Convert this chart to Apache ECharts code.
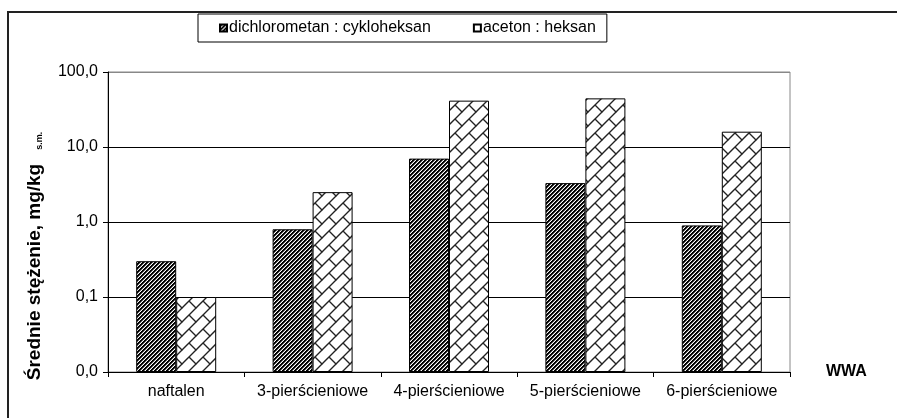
<!DOCTYPE html>
<html>
<head>
<meta charset="utf-8">
<script src="https://cdn.jsdelivr.net/npm/echarts@6/dist/echarts.min.js"></script>
<style>
  html, body { margin: 0; padding: 0; background: #fff; }
  #chart { width: 897px; height: 418px; }
</style>
</head>
<body>
<div id="chart"></div>
<script>
// dane
var categories = ['naftalen', '3-pierścieniowe', '4-pierścieniowe', '5-pierścieniowe', '6-pierścieniowe'];
var dichlorometan = [0.3, 0.8, 7.0, 3.3, 0.9];   // dichlorometan : cykloheksan
var aceton = [0.1, 2.5, 41.5, 44.5, 16.0];       // aceton : heksan
var yTicks = [0.01, 0.1, 1, 10, 100];

var FONT = '"Liberation Sans", Arial, sans-serif';

// ukośne paski "/"
function stripePattern() {
  var c = document.createElement('canvas');
  c.width = 4; c.height = 4;
  var ctx = c.getContext('2d');
  var img = ctx.createImageData(4, 4);
  for (var y = 0; y < 4; y++) {
    for (var x = 0; x < 4; x++) {
      var k = (x + y) % 4;
      var v = k < 2 ? 0 : (k === 2 ? 110 : 255);
      var i = (y * 4 + x) * 4;
      img.data[i] = img.data[i + 1] = img.data[i + 2] = v;
      img.data[i + 3] = 255;
    }
  }
  ctx.putImageData(img, 0, 0);
  return c;
}

// ukośna cegiełka
function brickPattern() {
  var P = 14;
  var c = document.createElement('canvas');
  c.width = P; c.height = P;
  var ctx = c.getContext('2d');
  ctx.fillStyle = '#fff';
  ctx.fillRect(0, 0, P, P);
  ctx.strokeStyle = '#222';
  ctx.lineWidth = 1.4;
  ctx.beginPath();
  ctx.moveTo(-2, P + 2); ctx.lineTo(P + 2, -2);
  ctx.moveTo(-2, 2); ctx.lineTo(2, -2);
  ctx.moveTo(P - 2, P + 2); ctx.lineTo(P + 2, P - 2);
  ctx.moveTo(P / 2, P / 2); ctx.lineTo(P + 1, P + 1);
  ctx.moveTo(-1, -1); ctx.lineTo(0.6, 0.6);
  ctx.stroke();
  return c;
}

var chart = echarts.init(document.getElementById('chart'), null, { renderer: 'canvas' });

var option = {
  animation: false,
  textStyle: { fontFamily: FONT, color: '#000' },
  graphic: [
    {
      type: 'rect',
      shape: { x: 8, y: 12, width: 1000, height: 500 },
      style: { fill: null, stroke: '#222', lineWidth: 2 },
      silent: true
    }
  ],
  legend: {
    left: 198,
    top: 14,
    padding: [6, 11, 6, 21],
    itemGap: 42,
    itemWidth: 7,
    itemHeight: 7,
    icon: 'rect',
    borderColor: '#000',
    borderWidth: 1,
    textStyle: { fontFamily: FONT, fontSize: 16, color: '#000', padding: [0, 0, 0, -3] },
    data: ['dichlorometan : cykloheksan', 'aceton : heksan']
  },
  grid: {
    left: 108,
    right: 107,
    top: 72,
    bottom: 46,
    show: true,
    borderColor: '#888',
    borderWidth: 1
  },
  xAxis: {
    type: 'category',
    data: categories,
    name: 'WWA',
    nameLocation: 'end',
    nameGap: 36,
    nameTextStyle: { fontFamily: FONT, fontSize: 16, fontWeight: 'bold', color: '#000', padding: [42, 0, 0, 0] },
    axisLine: { lineStyle: { color: '#000', width: 1 } },
    axisTick: { show: true, length: 5, lineStyle: { color: '#000' } },
    axisLabel: { interval: 0, hideOverlap: false, fontFamily: FONT, fontSize: 16, color: '#000', margin: 12 },
    splitLine: { show: false }
  },
  yAxis: {
    type: 'log',
    logBase: 10,
    min: yTicks[0],
    max: yTicks[yTicks.length - 1],
    startValue: yTicks[0],
    name: '{a|Średnie stężenie, mg/kg}{b|s.m.}',
    nameLocation: 'middle',
    nameRotate: 90,
    nameGap: 64,
    nameTextStyle: {
      padding: [0, 68, 0, 0],
      rich: {
        a: { fontFamily: FONT, fontSize: 19, fontWeight: 'bold', color: '#000' },
        b: { fontFamily: FONT, fontSize: 9, fontWeight: 'bold', color: '#000', verticalAlign: 'bottom', padding: [0, 0, 0, 14] }
      }
    },
    axisLine: { show: true, lineStyle: { color: '#000', width: 1 } },
    axisTick: { show: true, length: 5, lineStyle: { color: '#000' } },
    axisLabel: {
      fontFamily: FONT, fontSize: 16, color: '#000', margin: 10,
      formatter: function (v) { return v.toFixed(1).replace('.', ','); }
    },
    splitLine: { show: true, lineStyle: { color: ['#000', '#000', '#000', '#000', '#888'], width: 1 } }
  },
  series: [
    {
      name: 'dichlorometan : cykloheksan',
      type: 'bar',
      data: dichlorometan,
      barWidth: 40,
      barGap: '0%',
      itemStyle: { color: { image: stripePattern(), repeat: 'repeat' }, borderColor: '#000', borderWidth: 1 }
    },
    {
      name: 'aceton : heksan',
      type: 'bar',
      data: aceton,
      barWidth: 40,
      barGap: '0%',
      itemStyle: { color: { image: brickPattern(), repeat: 'repeat' }, borderColor: '#000', borderWidth: 1 }
    }
  ]
};

chart.setOption(option);
</script>
</body>
</html>
